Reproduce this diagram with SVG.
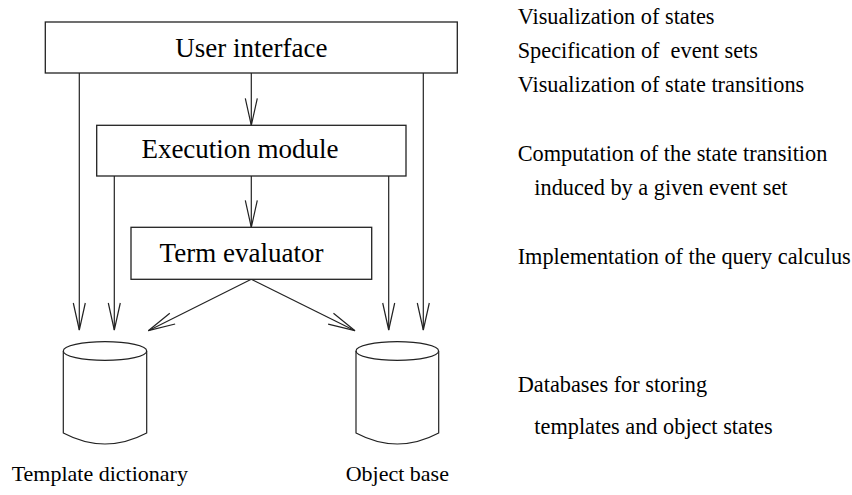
<svg xmlns="http://www.w3.org/2000/svg" width="852" height="495" viewBox="0 0 852 495">
<defs>
<style>
.box{fill:#fff;stroke:#222;stroke-width:1.3}
.ln{fill:none;stroke:#222;stroke-width:1.2}
.t{font-family:"Liberation Serif","Times New Roman",serif;fill:#000}
.big{font-size:27px}
.sm{font-size:22px}
.side{font-size:22.3px}
</style>
<marker id="ah" markerUnits="userSpaceOnUse" markerWidth="40" markerHeight="20" viewBox="-30 -10 32 20" refX="0" refY="0" orient="auto">
<path d="M-27,-6 L0,0 L-27,6" fill="none" stroke="#222" stroke-width="1.2"/>
</marker>
</defs>
<rect width="852" height="495" fill="#fff"/>
<g id="connectors">
<line class="ln" x1="79.3" y1="73" x2="79.3" y2="330" marker-end="url(#ah)"/>
<line class="ln" x1="423.3" y1="73" x2="423.3" y2="330" marker-end="url(#ah)"/>
<line class="ln" x1="251.3" y1="73" x2="251.3" y2="125.3" marker-end="url(#ah)"/>
<line class="ln" x1="114.3" y1="176" x2="114.3" y2="330" marker-end="url(#ah)"/>
<line class="ln" x1="388.7" y1="176" x2="388.7" y2="330" marker-end="url(#ah)"/>
<line class="ln" x1="251.3" y1="176" x2="251.3" y2="227.3" marker-end="url(#ah)"/>
<line class="ln" x1="251.3" y1="279.3" x2="148.3" y2="330.7" marker-end="url(#ah)"/>
<line class="ln" x1="251.3" y1="279.3" x2="355" y2="330.7" marker-end="url(#ah)"/>
</g>
<g id="user-interface">
<rect class="box" x="45.3" y="22" width="412" height="51"/>
<text class="t big" x="251.3" y="57" text-anchor="middle">User interface</text>
</g>
<g id="execution-module">
<rect class="box" x="96.7" y="125.3" width="309.3" height="50.7"/>
<text class="t big" x="240" y="158" text-anchor="middle">Execution module</text>
</g>
<g id="term-evaluator">
<rect class="box" x="131" y="227.3" width="240.7" height="52"/>
<text class="t big" x="241.5" y="261.7" text-anchor="middle">Term evaluator</text>
</g>
<g id="template-dictionary">
<path class="ln" d="M63.3,351 L63.3,433 Q105,455 146.7,433 L146.7,351"/>
<ellipse class="ln" cx="105" cy="351" rx="41.7" ry="9.3"/>
<text class="t sm" x="11.7" y="481">Template dictionary</text>
</g>
<g id="object-base">
<path class="ln" d="M356,351 L356,433 Q397.3,455 438.7,433 L438.7,351"/>
<ellipse class="ln" cx="397.3" cy="351" rx="41.3" ry="9.3"/>
<text class="t sm" x="345.7" y="481">Object base</text>
</g>
<g id="descriptions">
<text class="t side" x="517.7" y="24">Visualization of states</text>
<text class="t side" x="517.7" y="58" xml:space="preserve">Specification of  event sets</text>
<text class="t side" x="517.7" y="91.5">Visualization of state transitions</text>
<text class="t side" x="517.7" y="161">Computation of the state transition</text>
<text class="t side" x="534.3" y="195">induced by a given event set</text>
<text class="t side" x="517.7" y="264">Implementation of the query calculus</text>
<text class="t side" x="517.7" y="392">Databases for storing</text>
<text class="t side" x="534.3" y="434">templates and object states</text>
</g>
</svg>
